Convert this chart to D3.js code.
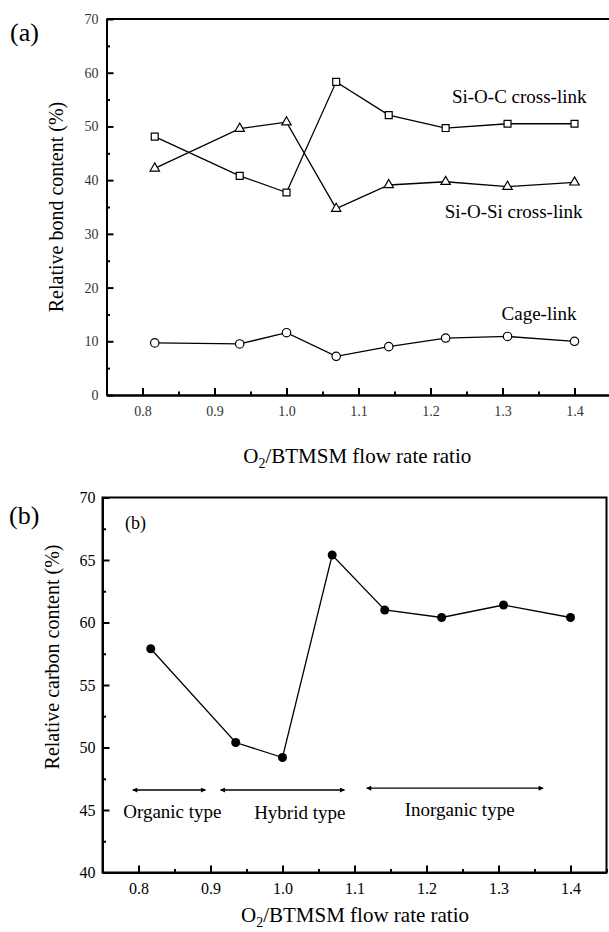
<!DOCTYPE html>
<html lang="en">
<head>
<meta charset="UTF-8">
<title>Relative bond and carbon content</title>
<script src="https://d3js.org/d3.v7.min.js"></script>
<style>
    body { margin: 0; background: #fff; }
    .domain { stroke: #000; stroke-width: 2; }
    .tick line { stroke: #000; stroke-width: 2; }
</style>
</head>
<body>
<script>
    // O2/BTMSM flow rate ratio (x values shared by both panels)
    const ratio = [0.817, 0.935, 1.0, 1.069, 1.142, 1.221, 1.307, 1.4];

    // panel (a): relative bond content (%)
    const siOC = [48.1, 40.8, 37.7, 58.3, 52.1, 49.7, 50.5, 50.5];
    const siOSi = [42.2, 49.6, 50.8, 34.7, 39.1, 39.7, 38.8, 39.6];
    const cage = [9.7, 9.5, 11.6, 7.2, 9.0, 10.6, 10.9, 10.0];
    const seriesNames = ["Si-O-C cross-link", "Si-O-Si cross-link", "Cage-link"];

    // panel (b): relative carbon content (%)
    const carbon = [57.9, 50.4, 49.2, 65.4, 61.0, 60.4, 61.4, 60.4];

    // panel (b): film type ranges
    const regionNames = ["Organic type", "Hybrid type", "Inorganic type"];
    const regionFrom = [0.792, 0.914, 1.117];
    const regionTo = [0.893, 1.086, 1.362];

    // tick labels
    const xTicks = [0.8, 0.9, 1.0, 1.1, 1.2, 1.3, 1.4];
    const yTicksA = [0, 10, 20, 30, 40, 50, 60, 70];
    const yTicksB = [40, 45, 50, 55, 60, 65, 70];

    const width = 609, height = 932;
    const serif = "Liberation Serif";
    const svg = d3.select("body").append("svg")
        .attr("width", width).attr("height", height)
        .attr("font-family", serif);

    // arrow heads for the range markers
    const defs = svg.append("defs");
    ["start", "end"].forEach(k => {
        defs.append("marker")
            .attr("id", "arr-" + k)
            .attr("viewBox", "0 0 10 10")
            .attr("refX", k === "end" ? 9 : 1).attr("refY", 5)
            .attr("markerWidth", 9).attr("markerHeight", 5)
            .attr("markerUnits", "userSpaceOnUse")
            .attr("orient", "auto")
            .append("path")
            .attr("d", k === "end" ? "M0,0L10,5L0,10Z" : "M10,0L0,5L10,10Z")
            .attr("fill", "#000");
    });

    // minor ticks halfway between the labelled ones
    const minorX = [0.75, 0.85, 0.95, 1.05, 1.15, 1.25, 1.35, 1.45];

    // put the serif face on d3's axis labels
    function plain(g, size, color) {
        g.attr("font-family", serif).attr("font-size", null);
        g.selectAll("text").attr("font-family", serif).attr("font-size", size).attr("fill", color);
    }

    function label(g, txt, size) {
        return g.append("text").attr("font-family", serif).attr("font-size", size).text(txt);
    }

    // ---------- panel (a) ----------
    const xA = d3.scaleLinear().domain([0.75, 1.45]).range([106.5, 610.5]);
    const yA = d3.scaleLinear().domain([0, 70]).range([395, 19]);

    const gA = svg.append("g");

    gA.append("line").attr("x1", xA(0.75)).attr("x2", xA(1.45)).attr("y1", yA(70)).attr("y2", yA(70))
        .attr("stroke", "#000").attr("stroke-width", 2);

    gA.append("g").attr("transform", `translate(0,${yA(0)})`)
        .call(d3.axisBottom(xA).tickValues(minorX).tickSizeInner(-3.5).tickSizeOuter(0).tickFormat(""));
    gA.append("g").attr("transform", `translate(0,${yA(0)})`)
        .call(d3.axisBottom(xA).tickValues(xTicks).tickSizeInner(-7).tickSizeOuter(0).tickPadding(11).tickFormat(d3.format(".1f")))
        .call(plain, 14, "#333");

    gA.append("g").attr("transform", `translate(${xA(0.75)},0)`)
        .call(d3.axisLeft(yA).tickValues(d3.range(5, 70, 10)).tickSizeInner(-3.5).tickSizeOuter(0).tickFormat(""));
    gA.append("g").attr("transform", `translate(${xA(0.75)},0)`)
        .call(d3.axisLeft(yA).tickValues(yTicksA).tickSizeInner(-7).tickSizeOuter(0).tickPadding(8))
        .call(plain, 14, "#333");

    const lineA = d3.line().x((d, i) => xA(ratio[i])).y(d => yA(d));
    [siOC, siOSi, cage].forEach(s => {
        gA.append("path").attr("d", lineA(s)).attr("fill", "none").attr("stroke", "#000").attr("stroke-width", 1.3);
    });

    const sq = d3.symbol().type(d3.symbolSquare).size(48);
    const tri = d3.symbol().type(d3.symbolTriangle).size(38);
    gA.selectAll(".sq").data(siOC).join("path")
        .attr("d", sq).attr("transform", (d, i) => `translate(${xA(ratio[i])},${yA(d)})`)
        .attr("fill", "#fff").attr("stroke", "#000").attr("stroke-width", 1.2);
    gA.selectAll(".tri").data(siOSi).join("path")
        .attr("d", tri).attr("transform", (d, i) => `translate(${xA(ratio[i])},${yA(d)})`)
        .attr("fill", "#fff").attr("stroke", "#000").attr("stroke-width", 1.2);
    gA.selectAll(".circ").data(cage).join("circle")
        .attr("cx", (d, i) => xA(ratio[i])).attr("cy", d => yA(d)).attr("r", 4.2)
        .attr("fill", "#fff").attr("stroke", "#000").attr("stroke-width", 1.2);

    // series labels
    const labelA = [[xA(1.4) + 12, yA(54.3)], [xA(1.4) + 8, yA(33.0)], [xA(1.4) + 2, yA(14.0)]];
    seriesNames.forEach((n, i) => {
        label(gA, n, 19).attr("x", labelA[i][0]).attr("y", labelA[i][1]).attr("text-anchor", "end");
    });

    label(gA, "(a)", 26).attr("x", 10).attr("y", 41);

    label(gA, "Relative bond content (%)", 20)
        .attr("transform", `translate(63,${(yA(0) + yA(70)) / 2}) rotate(-90)`)
        .attr("text-anchor", "middle");

    const xtA = label(gA, null, 21).attr("x", (xA(0.75) + 608) / 2).attr("y", 463).attr("text-anchor", "middle");
    xtA.append("tspan").text("O");
    xtA.append("tspan").attr("font-size", 14).attr("dy", 5).text("2");
    xtA.append("tspan").attr("dy", -5).text("/BTMSM flow rate ratio");

    // ---------- panel (b) ----------
    const xB = d3.scaleLinear().domain([0.75, 1.45]).range([102.5, 606.5]);
    const yB = d3.scaleLinear().domain([40, 70]).range([872.5, 497.5]);

    const gB = svg.append("g");

    gB.append("rect").attr("x", xB(0.75)).attr("y", yB(70))
        .attr("width", xB(1.45) - xB(0.75)).attr("height", yB(40) - yB(70))
        .attr("fill", "none").attr("stroke", "#000").attr("stroke-width", 2);

    gB.append("g").attr("transform", `translate(0,${yB(40)})`)
        .call(d3.axisBottom(xB).tickValues(minorX).tickSizeInner(-3.5).tickSizeOuter(0).tickFormat(""));
    gB.append("g").attr("transform", `translate(0,${yB(40)})`)
        .call(d3.axisBottom(xB).tickValues(xTicks).tickSizeInner(-7).tickSizeOuter(0).tickPadding(10).tickFormat(d3.format(".1f")))
        .call(plain, 16, "#000");

    gB.append("g").attr("transform", `translate(${xB(0.75)},0)`)
        .call(d3.axisLeft(yB).tickValues(d3.range(42.5, 70, 5)).tickSizeInner(-3.5).tickSizeOuter(0).tickFormat(""));
    gB.append("g").attr("transform", `translate(${xB(0.75)},0)`)
        .call(d3.axisLeft(yB).tickValues(yTicksB).tickSizeInner(-7).tickSizeOuter(0).tickPadding(7))
        .call(plain, 16, "#000");

    const lineB = d3.line().x((d, i) => xB(ratio[i])).y(d => yB(d));
    gB.append("path").attr("d", lineB(carbon)).attr("fill", "none").attr("stroke", "#000").attr("stroke-width", 1.3);
    gB.selectAll(".dot").data(carbon).join("circle")
        .attr("cx", (d, i) => xB(ratio[i])).attr("cy", d => yB(d)).attr("r", 4.5).attr("fill", "#000");

    // range arrows and labels
    const arrowY = [46.6, 46.6, 46.75];
    const labelY = [44.36, 44.3, 44.5];
    const labelX = [0.847, 1.024, 1.246];
    regionNames.forEach((n, i) => {
        gB.append("line")
            .attr("x1", xB(regionFrom[i])).attr("x2", xB(regionTo[i]))
            .attr("y1", yB(arrowY[i])).attr("y2", yB(arrowY[i]))
            .attr("stroke", "#000").attr("stroke-width", 1.4)
            .attr("marker-start", "url(#arr-start)").attr("marker-end", "url(#arr-end)");
        label(gB, n, 19).attr("x", xB(labelX[i])).attr("y", yB(labelY[i])).attr("text-anchor", "middle");
    });

    label(gB, "(b)", 18).attr("x", 125).attr("y", 529);
    label(gB, "(b)", 26).attr("x", 9).attr("y", 524);

    label(gB, "Relative carbon content (%)", 20)
        .attr("transform", `translate(59,657) rotate(-90)`)
        .attr("text-anchor", "middle");

    const xtB = label(gB, null, 21).attr("x", 355).attr("y", 922).attr("text-anchor", "middle");
    xtB.append("tspan").text("O");
    xtB.append("tspan").attr("font-size", 14).attr("dy", 5).text("2");
    xtB.append("tspan").attr("dy", -5).text("/BTMSM flow rate ratio");
</script>
</body>
</html>
